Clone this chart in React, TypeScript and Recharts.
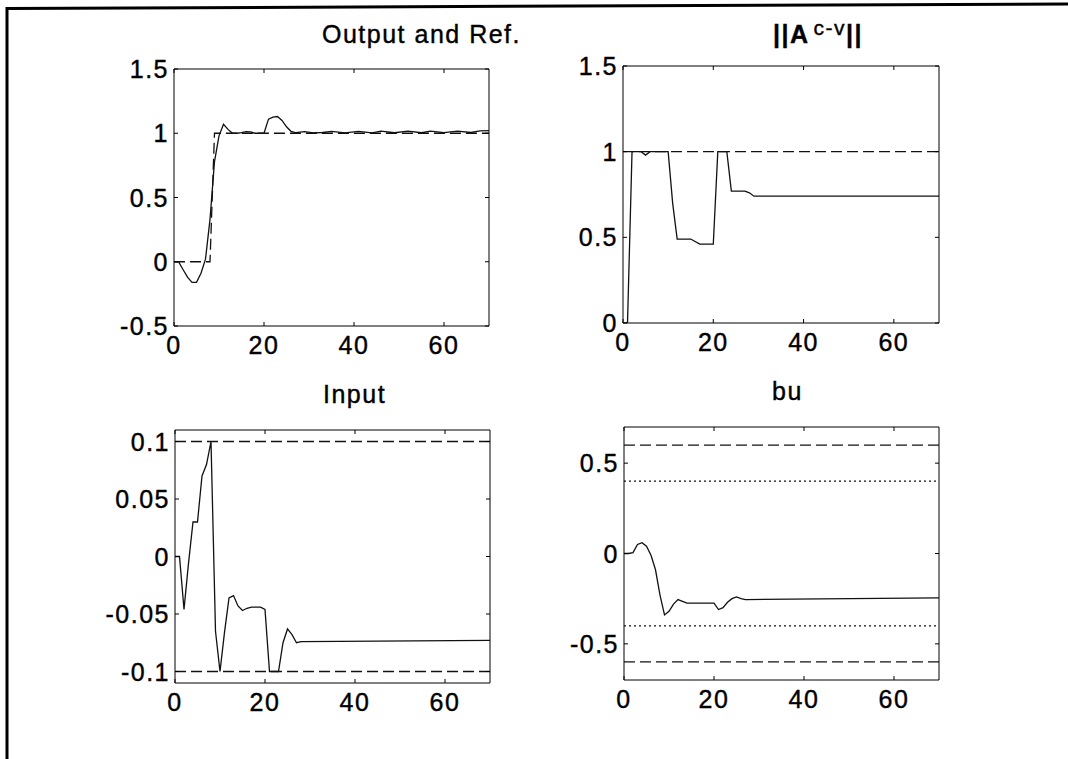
import React from "react";
import {
  LineChart,
  Line,
  XAxis,
  YAxis,
  ReferenceLine,
  ReferenceArea,
} from "recharts";

type Pt = [number, number];

const FONT = "'Liberation Sans', Arial, Helvetica, sans-serif";

// shared time axis
const xDomain: [number, number] = [0, 70];
const xTicks = [0, 20, 40, 60];

// Output and Ref.
const outputPts: Pt[] = [
  [0, 0], [1, 0], [2, -0.06], [3, -0.12], [4, -0.16], [5, -0.16], [6, -0.09],
  [7, 0.02], [8, 0.33], [9, 0.78], [10, 0.98], [11, 1.07], [12, 1.03], [13, 1.0],
  [14, 1.0], [15, 1.005], [16, 1.012], [17, 1.01], [18, 1.0], [19, 1.0], [20, 1.0],
  [21, 1.11], [22, 1.125], [23, 1.13], [24, 1.1], [25, 1.05], [26, 1.015],
  [27, 1.005], [29, 1.012], [31, 1.003], [33, 1.006], [35, 1.015], [38, 1.003],
  [41, 1.015], [44, 1.003], [46, 1.016], [49, 1.004], [52, 1.016], [55, 1.004],
  [57, 1.016], [60, 1.005], [63, 1.017], [66, 1.006], [68, 1.018], [70, 1.02],
];
const refPts: Pt[] = [[0, 0], [8, 0], [9, 1], [70, 1]];
const outYDomain: [number, number] = [-0.5, 1.5];
const outYTicks = [-0.5, 0, 0.5, 1, 1.5];

// ||A c-v||
const normPts: Pt[] = [
  [0, 0], [1, 0], [2, 1], [4, 1], [5, 0.98], [6, 1], [10, 1], [11, 0.7],
  [12, 0.49], [15, 0.49], [17, 0.46], [20, 0.46], [21, 1], [23, 1], [24, 0.77],
  [27, 0.77], [28, 0.76], [29, 0.74], [70, 0.74],
];
const normBounds = [1];
const normYDomain: [number, number] = [0, 1.5];
const normYTicks = [0, 0.5, 1, 1.5];

// Input
const inputPts: Pt[] = [
  [0, 0], [1, 0], [2, -0.046], [3, -0.006], [4, 0.03], [5, 0.03], [6, 0.07],
  [7, 0.08], [8, 0.1], [9, -0.065], [10, -0.1], [11, -0.066], [12, -0.036],
  [13, -0.034], [14, -0.043], [15, -0.047], [16, -0.045], [17, -0.044],
  [19, -0.044], [20, -0.046], [21, -0.1], [23, -0.1], [24, -0.075], [25, -0.063],
  [26, -0.068], [27, -0.075], [28, -0.074], [70, -0.073],
];
const inputBounds = [0.1, -0.1];
const inputYDomain: [number, number] = [-0.11, 0.11];
const inputYTicks = [-0.1, -0.05, 0, 0.05, 0.1];

// bu
const buPts: Pt[] = [
  [0, 0], [1, 0], [2, 0.005], [3, 0.05], [4, 0.06], [5, 0.04], [6, -0.01],
  [7, -0.09], [8, -0.23], [9, -0.34], [10, -0.32], [11, -0.28], [12, -0.255],
  [13, -0.265], [14, -0.275], [20, -0.275], [21, -0.31], [22, -0.3], [23, -0.27],
  [24, -0.25], [25, -0.24], [26, -0.25], [27, -0.255], [70, -0.245],
];
const buOuter = [0.6, -0.6];
const buInner = [0.4, -0.4];
const buYDomain: [number, number] = [-0.7, 0.7];
const buYTicks = [-0.5, 0, 0.5];

const rows = (pts: Pt[]) => pts.map(([x, y]) => ({ x, y }));

// scanned text looks a bit heavy, a thin stroke thickens the glyphs
const textStyle = {
  fontFamily: FONT,
  fontSize: 25,
  letterSpacing: 1.5,
  fill: "#000",
  stroke: "#000",
  strokeWidth: 0.4,
};

type PanelProps = {
  left: number;
  top: number;
  w: number;
  h: number;
  yDomain: [number, number];
  yTicks: number[];
  children?: React.ReactNode;
};

function Panel({ left, top, w, h, yDomain, yTicks, children }: PanelProps) {
  const padL = 100;
  const padT = 25;
  const padR = 10;
  const padB = 45;

  const XTick = (p: any) => (
    <g>
      <line x1={p.x} x2={p.x} y1={p.y} y2={p.y - 4} stroke="#000" />
      <line x1={p.x} x2={p.x} y1={p.y - h} y2={p.y - h + 4} stroke="#000" />
      <text x={p.x} y={p.y + 28} textAnchor="middle" style={textStyle}>
        {String(p.payload.value)}
      </text>
    </g>
  );

  const YTick = (p: any) => (
    <g>
      <line x1={p.x} x2={p.x + 4} y1={p.y} y2={p.y} stroke="#000" />
      <line x1={p.x + w} x2={p.x + w - 4} y1={p.y} y2={p.y} stroke="#000" />
      <text x={p.x - 5} y={p.y + 9} textAnchor="end" style={textStyle}>
        {String(p.payload.value)}
      </text>
    </g>
  );

  return (
    <div style={{ position: "absolute", left: left - padL, top: top - padT }}>
      <LineChart
        width={w + padL + padR}
        height={h + padT + padB}
        margin={{ top: padT, right: padR, bottom: padB - 30, left: padL - 60 }}
      >
        <XAxis
          type="number"
          dataKey="x"
          domain={xDomain}
          ticks={xTicks}
          tick={XTick}
          tickLine={false}
          axisLine={false}
          tickSize={0}
          tickMargin={0}
          height={30}
          allowDataOverflow
        />
        <YAxis
          type="number"
          domain={yDomain}
          ticks={yTicks}
          tick={YTick}
          tickLine={false}
          axisLine={false}
          tickSize={0}
          tickMargin={0}
          width={60}
          allowDataOverflow
        />
        <ReferenceArea
          x1={xDomain[0]}
          x2={xDomain[1]}
          y1={yDomain[0]}
          y2={yDomain[1]}
          fill="none"
          fillOpacity={0}
          stroke="#000"
          strokeWidth={1}
          ifOverflow="visible"
        />
        {children}
      </LineChart>
    </div>
  );
}

const solid = (pts: Pt[], key: string) => (
  <Line
    key={key}
    data={rows(pts)}
    dataKey="y"
    type="linear"
    stroke="#111"
    strokeWidth={1.3}
    dot={false}
    activeDot={false}
    isAnimationActive={false}
  />
);

export default function App() {
  return (
    <div
      style={{
        position: "absolute",
        left: 0,
        top: 0,
        width: 1068,
        height: 759,
        background: "#fff",
        overflow: "hidden",
      }}
    >
      <Panel left={174} top={69} w={315} h={257} yDomain={outYDomain} yTicks={outYTicks}>
        <Line
          key="ref"
          data={rows(refPts)}
          dataKey="y"
          type="linear"
          stroke="#111"
          strokeWidth={1.3}
          strokeDasharray="11 5"
          dot={false}
          activeDot={false}
          isAnimationActive={false}
        />
        {solid(outputPts, "out")}
      </Panel>

      <Panel left={623} top={66} w={316} h={257} yDomain={normYDomain} yTicks={normYTicks}>
        {normBounds.map((v) => (
          <ReferenceLine key={v} y={v} stroke="#111" strokeWidth={1.3} strokeDasharray="11 5" />
        ))}
        {solid(normPts, "norm")}
      </Panel>

      <Panel left={175} top={430} w={315} h={253} yDomain={inputYDomain} yTicks={inputYTicks}>
        {inputBounds.map((v) => (
          <ReferenceLine key={v} y={v} stroke="#111" strokeWidth={1.3} strokeDasharray="11 5" />
        ))}
        {solid(inputPts, "in")}
      </Panel>

      <Panel left={624} top={427} w={315} h={253} yDomain={buYDomain} yTicks={buYTicks}>
        {buOuter.map((v) => (
          <ReferenceLine key={"o" + v} y={v} stroke="#111" strokeWidth={1.3} strokeDasharray="11 5" />
        ))}
        {buInner.map((v) => (
          <ReferenceLine key={"i" + v} y={v} stroke="#111" strokeWidth={1.3} strokeDasharray="2 3" />
        ))}
        {solid(buPts, "bu")}
      </Panel>

      <svg
        width={1068}
        height={759}
        style={{ position: "absolute", left: 0, top: 0, pointerEvents: "none" }}
      >
        <line x1={6} y1={8.5} x2={1068} y2={4} stroke="#000" strokeWidth={3} />
        <line x1={7} y1={7} x2={7} y2={759} stroke="#000" strokeWidth={3} />
        <text x={322} y={43} style={textStyle}>
          Output and Ref.
        </text>
        <text x={773} y={43} style={textStyle}>
          <tspan fontWeight="bold">||A</tspan>
          <tspan dx={4} dy={-8} fontSize={21}>
            c-v
          </tspan>
          <tspan dy={8} fontWeight="bold">
            ||
          </tspan>
        </text>
        <text x={323} y={403} style={textStyle}>
          Input
        </text>
        <text x={772} y={400} style={textStyle}>
          bu
        </text>
      </svg>
    </div>
  );
}
